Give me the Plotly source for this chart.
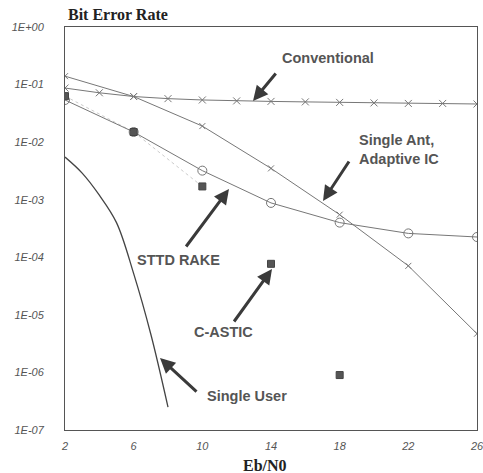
import numpy as np
import plotly.graph_objects as go

# ---------------- data ----------------
conv_x = [2, 4, 6, 8, 10, 12, 14, 16, 18, 20, 22, 24, 26]
conv_y = [0.087, 0.072, 0.062, 0.057, 0.054, 0.052, 0.051, 0.050, 0.049, 0.048, 0.047, 0.047, 0.046]

ant_x = [2, 6, 10, 14, 18, 22, 26]
ant_y = [0.14, 0.062, 0.019, 0.0035, 5.5e-4, 7.1e-5, 4.7e-6]

sttd_x = [2, 6, 10, 14, 18, 22, 26]
sttd_y = [0.054, 0.015, 0.0032, 8.8e-4, 4.0e-4, 2.6e-4, 2.25e-4]

castic_x = [2, 6, 10, 14, 18]
castic_y = [0.063, 0.015, 1.7e-3, 7.7e-5, 9.0e-7]

su_x = [2, 3, 4, 5, 6, 7, 8]
su_y = [5.5e-3, 2.9e-3, 1.2e-3, 4.0e-4, 5.2e-5, 4.6e-6, 2.5e-7]

x_ticks = [2, 6, 10, 14, 18, 22, 26]
y_tickvals = [1, 1e-1, 1e-2, 1e-3, 1e-4, 1e-5, 1e-6, 1e-7]
y_ticktext = ["1E+00", "1E-01", "1E-02", "1E-03", "1E-04", "1E-05", "1E-06", "1E-07"]

# ---------------- figure ----------------
W, H = 483, 473
L, R, T, B = 65, 6, 27, 43
pw, ph = W - L - R, H - T - B

def px2x(px):
    return 2 + (px - L) / pw * 24

def py2y(py):
    return -(py - T) / ph * 7  # log10 value

line_col = "#777777"
fig = go.Figure()

fig.add_trace(go.Scatter(x=castic_x[:3], y=castic_y[:3], mode="lines",
                         line=dict(color="#cccccc", width=1, dash="dot"),
                         hoverinfo="skip", showlegend=False))
fig.add_trace(go.Scatter(x=conv_x, y=conv_y, mode="lines+markers",
                         line=dict(color=line_col, width=1),
                         marker=dict(symbol="x-thin-open", size=7,
                                     line=dict(color=line_col, width=1)),
                         showlegend=False))
fig.add_trace(go.Scatter(x=ant_x, y=ant_y, mode="lines+markers",
                         line=dict(color=line_col, width=1),
                         marker=dict(symbol="x-thin-open", size=6,
                                     line=dict(color=line_col, width=1)),
                         showlegend=False))
fig.add_trace(go.Scatter(x=sttd_x, y=sttd_y, mode="lines+markers",
                         line=dict(color=line_col, width=1),
                         marker=dict(symbol="circle-open", size=9,
                                     color=line_col, line=dict(width=1)),
                         showlegend=False))
fig.add_trace(go.Scatter(x=castic_x, y=castic_y, mode="markers",
                         marker=dict(symbol="square", size=7, color="#555555",
                                     line=dict(color="#444444", width=1)),
                         showlegend=False))
fig.add_trace(go.Scatter(x=su_x, y=su_y, mode="lines",
                         line=dict(color="#444444", width=1.3, shape="spline"),
                         showlegend=False))

anns = []
# arrows: (tail px, tail py, tip px, tip py)
arrows = [
    (277, 72, 253, 101),
    (350, 160, 323, 201),
    (185, 248, 229, 189),
    (233, 323, 272, 269),
    (198, 393, 160, 358),
]
for tx, ty, hx, hy in arrows:
    anns.append(dict(x=px2x(hx), y=py2y(hy), ax=px2x(tx), ay=py2y(ty),
                     xref="x", yref="y", axref="x", ayref="y",
                     text="", showarrow=True, arrowhead=2, arrowsize=1,
                     arrowwidth=3, arrowcolor="#3a3a3a"))

lab_font = dict(family="Liberation Sans, Arial, sans-serif", size=14.5, color="#555555")
labels = [
    ("<b>Conventional</b>", 280, 58),
    ("<b>Single Ant,</b><br><b>Adaptive IC</b>", 357, 149),
    ("<b>STTD RAKE</b>", 135, 260),
    ("<b>C-ASTIC</b>", 192, 332),
    ("<b>Single User</b>", 205, 396),
]
for txt, x0, y0 in labels:
    anns.append(dict(x=(x0 - L) / pw, y=(H - y0 - B) / ph, xref="paper", yref="paper",
                     text=txt, showarrow=False, xanchor="left", yanchor="middle",
                     align="left", font=lab_font))

# title and x-axis title
anns.append(dict(x=(66 - L) / pw, y=(H - 15 - B) / ph, xref="paper", yref="paper",
                 text="<b>Bit Error Rate</b>", showarrow=False, xanchor="left",
                 yanchor="middle",
                 font=dict(family="Liberation Serif, Times New Roman, serif",
                           size=16, color="#222222")))
anns.append(dict(x=(265 - L) / pw, y=(H - 465 - B) / ph, xref="paper", yref="paper",
                 text="<b>Eb/N0</b>", showarrow=False, xanchor="center",
                 yanchor="middle",
                 font=dict(family="Liberation Serif, Times New Roman, serif",
                           size=16, color="#222222")))

tick_font = dict(family="Liberation Sans, Arial, sans-serif", size=11, color="#555555")

fig.update_layout(
    width=W, height=H,
    margin=dict(l=L, r=R, t=T, b=B, pad=0, autoexpand=False),
    paper_bgcolor="white", plot_bgcolor="white",
    annotations=anns,
    xaxis=dict(range=[2, 26], tickvals=x_ticks, ticktext=[f"<i>{v}</i>" for v in x_ticks],
               showgrid=False, zeroline=False, showline=True, mirror=True,
               linecolor="#555555", linewidth=1, ticks="", ticklabelstandoff=6,
               ticklabeloverflow="allow", automargin=False, tickfont=tick_font),
    yaxis=dict(type="log", range=[-7, 0], tickvals=y_tickvals,
               ticktext=[f"<i>{t}</i>" for t in y_ticktext],
               showgrid=False, zeroline=False, showline=True, mirror=True,
               linecolor="#555555", linewidth=1, ticks="", ticklabelstandoff=18,
               ticklabeloverflow="allow", automargin=False, tickfont=tick_font),
)

fig.write_html("out.html")
